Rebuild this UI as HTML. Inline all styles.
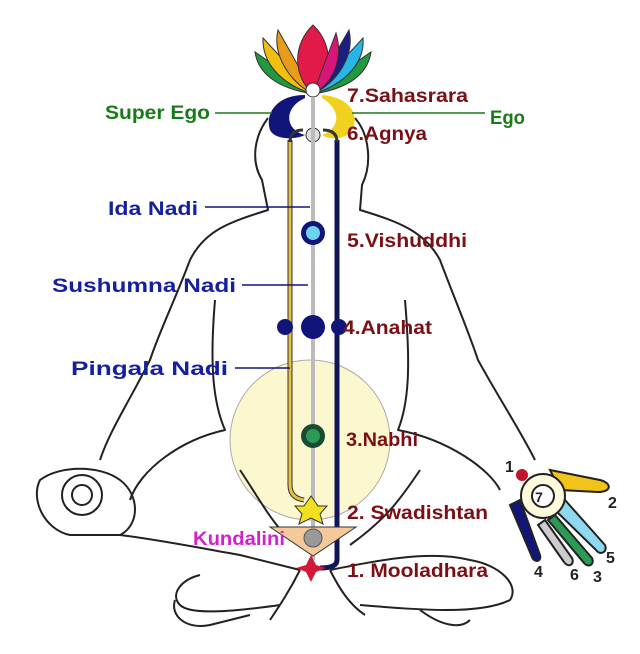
<!DOCTYPE html>
<html><head><style>
body{margin:0;background:#fff}
svg{display:block}
text{font-family:"Liberation Sans",sans-serif;font-weight:bold}
</style></head><body>
<svg width="640" height="654" viewBox="0 0 640 654" xmlns="http://www.w3.org/2000/svg">
<circle cx="310" cy="440" r="80" fill="#fbf7cf" stroke="#aaa" stroke-width="1"/>
<g fill="none" stroke="#222" stroke-width="2" stroke-linejoin="round">
<path d="M268,118 C255,135 250,160 262,180 L268,210 C230,222 205,230 190,260 C175,300 160,330 150,360 C130,400 110,430 100,460"/>
<path d="M355,118 C370,135 372,165 362,185 L360,210 C400,222 425,232 440,260 C455,300 468,330 478,360 C500,400 520,430 535,460"/>
<path d="M215,300 C210,360 212,400 225,430 C180,440 140,470 130,500"/>
<path d="M405,300 C410,360 410,400 398,430 C450,440 490,470 500,490"/>
<path d="M40,480 C60,465 100,465 120,480 C140,495 140,525 120,535 L70,535 C45,530 30,500 40,480Z"/>
<circle cx="82" cy="495" r="20"/><circle cx="82" cy="495" r="10"/>
<path d="M120,535 C160,540 200,548 240,555 L300,570"/>
<path d="M330,570 C380,560 430,550 470,560 C500,565 520,585 510,600 C480,615 420,610 360,605"/>
<path d="M280,605 C230,612 190,615 180,605 C170,595 180,580 200,575"/>
<path d="M175,600 C170,615 185,630 210,625 L250,615 M420,610 C440,625 460,630 470,620"/>
<path d="M300,570 C290,590 280,605 270,620 M330,570 C340,590 350,605 365,615"/>
<path d="M240,470 C260,500 270,520 290,540 M420,470 C400,500 385,520 350,545"/>
</g>
<g stroke="#222" stroke-width="2">
<path d="M550,470 L600,480 C612,483 612,492 598,492 L560,490Z" fill="#f2c318"/>
<path d="M565,500 L605,545 C608,552 600,556 596,550 L555,510Z" fill="#8fd8f0"/>
<path d="M555,515 L592,558 C595,565 588,568 584,563 L548,520Z" fill="#2a9a55"/>
<path d="M545,520 L572,558 C575,565 568,568 564,562 L538,525Z" fill="#ccc"/>
<path d="M520,500 L540,555 C542,562 534,563 532,557 L510,505Z" fill="#11157a"/>
<circle cx="543" cy="496" r="22" fill="#fcf9dc"/>
<circle cx="543" cy="496" r="11" fill="#fff"/>
<circle cx="522" cy="475" r="6" fill="#c0152e" stroke="none"/>
</g>
<g font-size="16" fill="#222">
<text x="505" y="472">1</text><text x="539" y="502" font-size="14" text-anchor="middle">7</text>
<text x="608" y="508">2</text><text x="606" y="563">5</text>
<text x="593" y="582">3</text><text x="570" y="580">6</text><text x="534" y="577">4</text>
</g>
<g stroke="#333" stroke-width="1">
<path d="M313,92 L255,52 C258,72 275,88 313,94Z" fill="#1f9a3e"/>
<path d="M313,92 L371,52 C368,72 352,88 313,94Z" fill="#1f9a3e"/>
<path d="M313,92 L263,38 C262,62 280,84 313,94Z" fill="#f0c010"/>
<path d="M313,92 L363,38 C365,62 346,84 313,94Z" fill="#28b6e6"/>
<path d="M313,92 L278,30 C272,55 290,82 313,94Z" fill="#e99b1a"/>
<path d="M313,92 L349,30 C355,55 338,82 313,94Z" fill="#1a1f80"/>
<path d="M313,94 C293,76 292,45 313,25 C334,45 333,76 313,94Z" fill="#e11a4a"/>
<path d="M313,94 L336,33 C344,60 332,84 313,94Z" fill="#d8167a"/>
</g>
<path d="M305,95 C275,95 265,115 270,130 C275,140 295,140 305,135 C285,130 283,108 305,98Z" fill="#11157a"/>
<path d="M322,95 C350,97 360,115 352,130 C345,140 330,140 322,135 C340,128 342,110 322,98Z" fill="#f2d020"/>
<circle cx="313" cy="90" r="7" fill="#fff" stroke="#333"/>
<circle cx="313" cy="135" r="7" fill="#ddd" stroke="#333"/>
<path d="M290,140 L290,485 Q290,498 304,500" fill="none" stroke="#333" stroke-width="5"/>
<path d="M290,140 L290,485 Q290,498 304,500" fill="none" stroke="#e8c040" stroke-width="3"/>
<line x1="313" y1="98" x2="313" y2="560" stroke="#bbb" stroke-width="4"/>
<path d="M337,140 L337,560 Q337,568 320,568" fill="none" stroke="#11155a" stroke-width="5"/>
<path d="M290,142 Q290,130 303,130 M337,142 Q337,130 323,130" fill="none" stroke="#333" stroke-width="3"/>
<path d="M270,527 L356,527 L313,556Z" fill="#f6c99a" stroke="#333"/>
<circle cx="313" cy="538" r="9" fill="#999" stroke="#555"/>
<circle cx="313" cy="233" r="12" fill="#11157a"/><circle cx="313" cy="233" r="7" fill="#6fd3f0"/>
<circle cx="313" cy="327" r="12" fill="#11157a"/>
<circle cx="285" cy="327" r="8" fill="#11157a"/><circle cx="339" cy="327" r="8" fill="#11157a"/>
<circle cx="313" cy="436" r="12" fill="#1a4a30"/><circle cx="313" cy="436" r="7" fill="#2a9a55"/>
<path d="M311,496 L318,506 L327,506 L320,514 L323,524 L311,518 L299,524 L302,514 L295,506 L304,506Z" fill="#f0e020" stroke="#333"/>
<path d="M311,555 L316,565 L326,568 L316,572 L311,582 L306,572 L296,568 L306,565Z" fill="#d41838"/>
<g stroke-width="1.5">
<line x1="215" y1="113" x2="272" y2="113" stroke="#1a7a1a"/>
<line x1="352" y1="113" x2="485" y2="113" stroke="#1a7a1a"/>
<line x1="205" y1="207" x2="310" y2="207" stroke="#11157a"/>
<line x1="242" y1="285" x2="308" y2="285" stroke="#11157a"/>
<line x1="235" y1="368" x2="290" y2="368" stroke="#11157a"/>
</g>
<g font-size="19">
<text x="105" y="119" fill="#1a7a1a" textLength="105" lengthAdjust="spacingAndGlyphs">Super Ego</text>
<text x="490" y="124" fill="#1a7a1a" textLength="35" lengthAdjust="spacingAndGlyphs">Ego</text>
<text x="108" y="215" fill="#1520a0" textLength="90" lengthAdjust="spacingAndGlyphs">Ida Nadi</text>
<text x="52" y="292" fill="#1520a0" textLength="184" lengthAdjust="spacingAndGlyphs">Sushumna Nadi</text>
<text x="71" y="375" fill="#1520a0" textLength="157" lengthAdjust="spacingAndGlyphs">Pingala Nadi</text>
<text x="193" y="545" fill="#d020d0" textLength="92" lengthAdjust="spacingAndGlyphs">Kundalini</text>
<g fill="#7a1015">
<text x="347" y="102" textLength="121" lengthAdjust="spacingAndGlyphs">7.Sahasrara</text>
<text x="347" y="140" textLength="80" lengthAdjust="spacingAndGlyphs">6.Agnya</text>
<text x="347" y="247" textLength="120" lengthAdjust="spacingAndGlyphs">5.Vishuddhi</text>
<text x="343" y="334" textLength="89" lengthAdjust="spacingAndGlyphs">4.Anahat</text>
<text x="346" y="446" textLength="72" lengthAdjust="spacingAndGlyphs">3.Nabhi</text>
<text x="347" y="519" textLength="141" lengthAdjust="spacingAndGlyphs">2. Swadishtan</text>
<text x="347" y="577" textLength="141" lengthAdjust="spacingAndGlyphs">1. Mooladhara</text>
</g>
</g>
</svg>
</body></html>
